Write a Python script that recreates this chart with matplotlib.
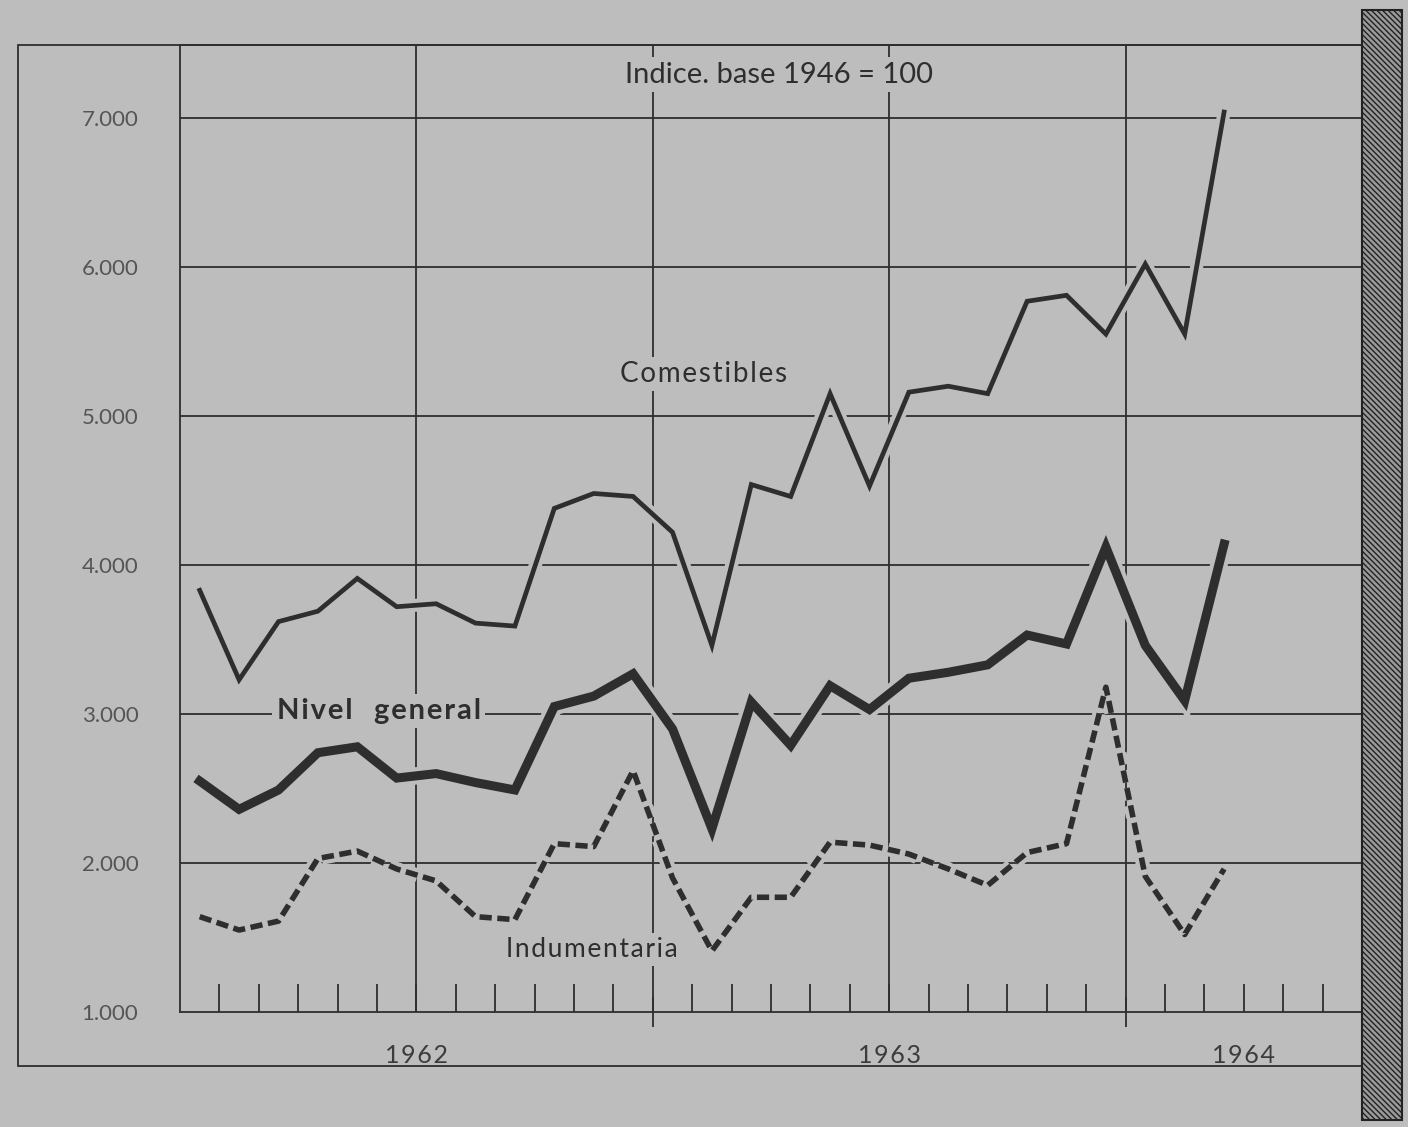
"""Price index chart 1962-1964 (Indice, base 1946 = 100)."""

import matplotlib

matplotlib.use("Agg")
import matplotlib.pyplot as plt
import matplotlib.patheffects as pe
from matplotlib.patches import Rectangle


BG = "#bdbdbd"
INK = "#2e2e2e"
FONT = ["Lato", "DejaVu Sans"]

# monthly values, Jan 1962 .. Mar 1964
COMESTIBLES = [3830, 3230, 3620, 3690, 3910, 3720, 3740, 3610, 3590,
               4380, 4480, 4460, 4220, 3460, 4540, 4460, 5150, 4530,
               5160, 5200, 5150, 5770, 5810, 5550, 6020, 5550, 7040]
NIVEL_GENERAL = [2550, 2360, 2490, 2740, 2780, 2570, 2600, 2540, 2490,
                 3050, 3120, 3270, 2900, 2230, 3080, 2790, 3190, 3030,
                 3240, 3280, 3330, 3530, 3470, 4120, 3460, 3090, 4140]
INDUMENTARIA = [1640, 1550, 1610, 2030, 2080, 1960, 1880, 1640, 1620,
                2130, 2110, 2620, 1900, 1410, 1770, 1770, 2140, 2120,
                2060, 1960, 1850, 2070, 2130, 3180, 1910, 1520, 1960]

Y_TICKS = [1000, 2000, 3000, 4000, 5000, 6000, 7000]
Y_LABELS = ["1.000", "2.000", "3.000", "4.000", "5.000", "6.000", "7.000"]
YEARS = ["1962", "1963", "1964"]
N_MONTHS = 30


def halo(width):
    return [pe.Stroke(linewidth=width + 6, foreground=BG), pe.Normal()]


def spaced(text):
    """Loose letter spacing, like the original lettering."""
    return "\u200a".join(text)


def main():
    fig = plt.figure(figsize=(14.08, 11.27), dpi=100)
    fig.patch.set_facecolor(BG)

    W, H = 1408, 1127
    left, right, top, bottom = 180, 1362, 45, 1012
    ax = fig.add_axes([left / W, 1 - bottom / H, (right - left) / W, (bottom - top) / H])
    ax.set_facecolor(BG)

    x = [m + 0.5 for m in range(len(COMESTIBLES))]

    ax.plot(x, COMESTIBLES, color=INK, lw=3.4, solid_joinstyle="miter",
            path_effects=halo(3.4), zorder=4)
    ax.plot(x, NIVEL_GENERAL, color=INK, lw=6.5, solid_joinstyle="miter",
            path_effects=halo(6.5), zorder=4)
    ax.plot(x, INDUMENTARIA, color=INK, lw=4.0, dashes=(2.2, 1.0),
            dash_capstyle="butt", path_effects=halo(4.0), zorder=4)

    ax.set_xlim(0, N_MONTHS)
    ax.set_ylim(1000, 7490)

    # grid
    for v in Y_TICKS[1:]:
        ax.axhline(v, color=INK, lw=1.3, zorder=1)
    for m in range(6, N_MONTHS, 6):
        ax.axvline(m, color=INK, lw=1.3, zorder=1)

    for side in ax.spines.values():
        side.set_color(INK)
        side.set_linewidth(1.3)

    ax.set_yticks(Y_TICKS)
    ax.set_yticklabels(Y_LABELS, family=FONT, fontsize=16, color="#555555")
    ax.tick_params(axis="y", length=0, pad=30)

    ax.set_xticks([12, 24])
    ax.set_xticklabels([])
    ax.set_xticks([m for m in range(1, N_MONTHS) if m % 12], minor=True)
    ax.tick_params(axis="x", which="major", direction="inout", length=22,
                   width=1.3, color=INK)
    ax.tick_params(axis="x", which="minor", direction="in", length=20,
                   width=1.3, color=INK)

    for i, year in enumerate(YEARS):
        start = 12 * i
        centre = (start + min(start + 12, N_MONTHS)) / 2
        ax.text(centre, -0.045, spaced(year), transform=ax.get_xaxis_transform(),
                ha="center", va="center", family=FONT, fontsize=18,
                color="#3c3c3c")

    box = {"boxstyle": "square,pad=0.15", "facecolor": BG, "edgecolor": "none"}
    ax.text(15.2, 7290, "Indice. base 1946 = 100", ha="center", va="center",
            family=FONT, fontsize=21, color=INK, bbox=box, zorder=6)
    ax.text(13.3, 5280, spaced("Comestibles"), ha="center", va="center",
            family=FONT, fontsize=20, color=INK, bbox=box, zorder=6)
    ax.text(2.45, 3020, spaced("Nivel") + "   " + spaced("general"), ha="left",
            va="center", family=FONT, fontsize=21, fontweight="bold",
            color=INK, bbox=box, zorder=6)
    ax.text(10.45, 1420, spaced("Indumentaria"), ha="center", va="center",
            family=FONT, fontsize=19, color=INK, bbox=box, zorder=6)

    # outer frame of the board
    fig.add_artist(Rectangle((18 / W, 1 - 1066 / H), (right - 18) / W,
                             (1066 - top) / H, transform=fig.transFigure,
                             fill=False, edgecolor=INK, lw=1.3))
    # hatched edge on the right
    fig.add_artist(Rectangle((right / W, 1 - 1120 / H), 40 / W, 1110 / H,
                             transform=fig.transFigure, facecolor="#9a9a9a",
                             edgecolor="#222222", lw=1.5,
                             hatch="\\\\\\\\\\\\"))

    fig.savefig("out.png", dpi=100, facecolor=BG)
    plt.close(fig)


if __name__ == "__main__":
    main()
